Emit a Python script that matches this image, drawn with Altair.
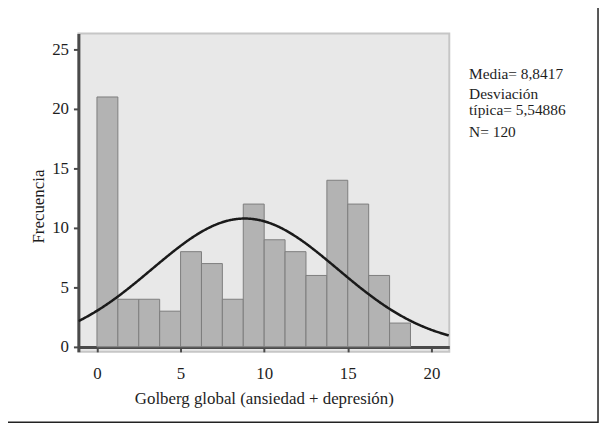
import altair as alt
import pandas as pd

# ---- data ----
BIN_WIDTH = 1.25
BIN_STARTS = [0, 1.25, 2.5, 3.75, 5, 6.25, 7.5, 8.75, 10, 11.25, 12.5, 13.75, 15, 16.25, 17.5]
COUNTS = [21, 4, 4, 3, 8, 7, 4, 12, 9, 8, 6, 14, 12, 6, 2]
MEAN = 8.8417
SD = 5.54886
N = 120
STATS_LINES = ["Media= 8,8417", "Desviación", "típica= 5,54886", "N= 120"]
X_TICKS = [0, 5, 10, 15, 20]
Y_TICKS = [0, 5, 10, 15, 20, 25]
X_TITLE = "Golberg global (ansiedad + depresión)"
Y_TITLE = "Frecuencia"

FONT = "Liberation Serif"
X_DOMAIN = [-1.11, 21.07]
Y_DOMAIN = [-0.42, 26.33]
TEXT_COLOR = "#1e1e1e"
AXIS_COLOR = "#4a4a4a"

bars_df = pd.DataFrame({
    "start": BIN_STARTS,
    "end": [s + BIN_WIDTH for s in BIN_STARTS],
    "count": COUNTS,
})

x_scale = alt.Scale(domain=X_DOMAIN, nice=False, zero=False)
y_scale = alt.Scale(domain=Y_DOMAIN, nice=False, zero=False)

x_axis = alt.Axis(
    values=X_TICKS, title=X_TITLE, offset=-5, grid=False,
    domainColor=AXIS_COLOR, domainWidth=3, tickColor=AXIS_COLOR, tickWidth=2, tickSize=5,
    labelFont=FONT, labelFontSize=17, labelColor=TEXT_COLOR,
    labelBaseline="alphabetic", labelPadding=27,
    titleFont=FONT, titleFontSize=17, titleFontWeight="normal", titleColor=TEXT_COLOR,
    titleY=57, titleBaseline="alphabetic",
)
y_axis = alt.Axis(
    values=Y_TICKS, title=Y_TITLE, grid=False,
    domainColor=AXIS_COLOR, domainWidth=3, tickColor=AXIS_COLOR, tickWidth=2, tickSize=5,
    labelFont=FONT, labelFontSize=17, labelColor=TEXT_COLOR, labelPadding=5,
    titleFont=FONT, titleFontSize=17, titleFontWeight="normal", titleColor=TEXT_COLOR,
    titleX=-40, titleY=174, titleAngle=270, titleAlign="center", titleBaseline="middle",
)

border = alt.Chart(pd.DataFrame({"a": [0]})).mark_rect(
    fill="transparent", stroke="#222222", strokeWidth=1.5
).encode(
    x=alt.value(-74), x2=alt.value(524), y=alt.value(-27), y2=alt.value(392)
)

bars = alt.Chart(bars_df).mark_rect(
    fill="#b3b3b3", stroke="#7d7d7d", strokeWidth=1
).encode(
    x=alt.X("start:Q", scale=x_scale, axis=x_axis),
    x2="end:Q",
    y=alt.Y("count:Q", scale=y_scale, axis=y_axis),
    y2=alt.datum(0),
)

curve = alt.Chart(
    alt.sequence(X_DOMAIN[0], X_DOMAIN[1] + 0.02, 0.05, as_="x")
).transform_calculate(
    density=f"{N * BIN_WIDTH}/({SD}*sqrt(2*PI))*exp(-0.5*pow((datum.x-{MEAN})/{SD},2))"
).mark_line(color="#1a1a1a", strokeWidth=2.5, clip=True).encode(
    x=alt.X("x:Q", scale=x_scale, axis=x_axis),
    y=alt.Y("density:Q", scale=y_scale, axis=y_axis),
)

text_y = [46, 66, 82, 104]
texts = []
for line, yy in zip(STATS_LINES, text_y):
    texts.append(
        alt.Chart(pd.DataFrame({"t": [line]})).mark_text(
            align="left", baseline="alphabetic", font=FONT, fontSize=15.5, color=TEXT_COLOR
        ).encode(x=alt.value(394), y=alt.value(yy), text="t:N")
    )

chart = alt.layer(border, bars, curve, *texts).properties(
    width=374, height=321,
    autosize=alt.AutoSizeParams(type="none"),
    padding={"left": 71, "top": 24, "right": 152, "bottom": 73},
    background="white",
).configure(
    font=FONT
).configure_text(
    font=FONT
).configure_axis(
    labelFont=FONT, titleFont=FONT
).configure_view(
    fill="#e8e8e8", stroke="#c6c6c6", strokeWidth=2
)

chart.save("out.html", embed_options={"renderer": "svg", "actions": False})
